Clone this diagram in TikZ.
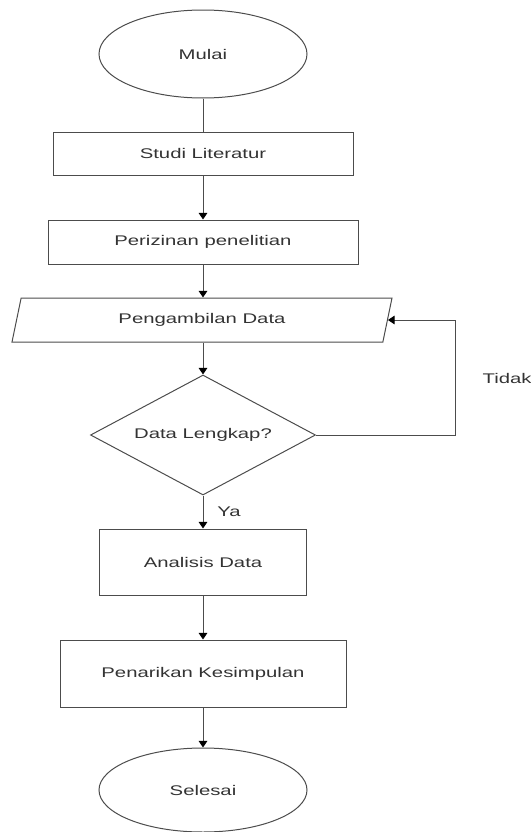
\documentclass[tikz,border=0pt]{standalone}
\usepackage{fontspec}
\setmainfont{Liberation Sans}[FakeStretch=1.45]
\usetikzlibrary{shapes.geometric,arrows.meta}

\begin{document}
\begin{tikzpicture}[x=0.75pt,y=0.75pt,yscale=-1,xscale=1,
        garis/.style={draw=black!70,line width=0.75pt},
        panah/.style={garis,-{Triangle[length=5pt,width=6.5pt,black]}},
        teks/.style={font=\fontsize{10.5}{12}\selectfont,text=black!80},
        terminal/.style={ellipse,garis,teks,inner sep=0pt,minimum width=156pt,minimum height=66pt},
        proses/.style={rectangle,garis,teks,inner sep=0pt},
        masukan/.style={trapezium,trapezium left angle=55,trapezium right angle=125,trapezium stretches body,garis,teks,inner sep=0pt},
        putusan/.style={diamond,aspect=1.875,garis,teks,inner sep=0pt}]
        \useasboundingbox (0,0) rectangle (531,832);
        \node [terminal] (mulai) at (203,54) {Mulai};
        \node [proses,minimum width=225pt,minimum height=32.25pt] (studi) at (203,153.5) {Studi Literatur};
        \node [proses,minimum width=232.5pt,minimum height=33pt] (izin) at (203,242) {Perizinan penelitian};
        \node [masukan,minimum width=285pt,minimum height=33pt] (ambil) at (202,320) {Pengambilan Data};
        \node [putusan,minimum width=168.75pt,minimum height=90pt] (cek) at (203,435) {Data Lengkap?};
        \node [proses,minimum width=155.25pt,minimum height=49.5pt] (analisis) at (203,562) {Analisis Data};
        \node [proses,minimum width=214.5pt,minimum height=50.25pt] (simpul) at (203,673.5) {Penarikan Kesimpulan};
        \node [terminal,minimum height=63pt] (selesai) at (203,790) {Selesai};
        \coordinate (balik) at (455,435);

        \draw [garis] (mulai.south) -- (studi.north);
        \draw [panah] (studi.south) -- (izin.north);
        \draw [panah] (izin.south) -- (izin.south |- ambil.north);
        \draw [panah] (cek.north |- ambil.south) -- (cek.north);
        \draw [panah] (cek.south) -- node [teks,anchor=west,xshift=7pt] {Ya} (analisis.north);
        \draw [panah] (analisis.south) -- (simpul.north);
        \draw [panah] (simpul.south) -- (selesai.north);
        \draw [panah] (cek.east) -- (balik) |- (ambil.east);
        \node [teks,anchor=west] (tidak) at (478,378) {Tidak};
\end{tikzpicture}
\end{document}
